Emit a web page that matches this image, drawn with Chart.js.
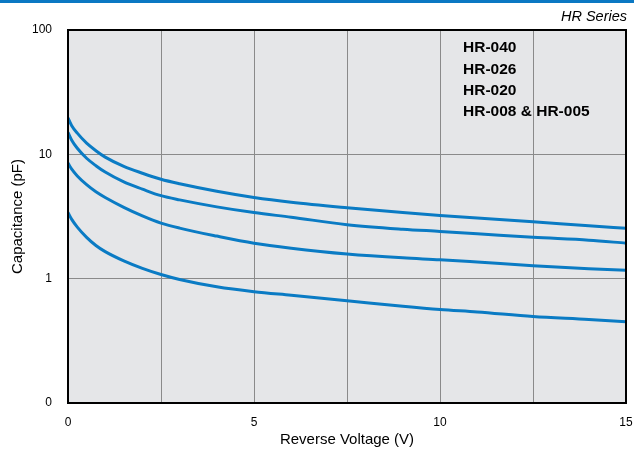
<!DOCTYPE html>
<html>
<head>
<meta charset="utf-8">
<script src="https://cdn.jsdelivr.net/npm/chart.js@4"></script>
<style>
  html, body { margin: 0; padding: 0; background: #fff; }
  #wrap { width: 634px; height: 454px; }
</style>
</head>
<body>
<div id="wrap"><canvas id="capChart" width="634" height="454"></canvas></div>
<script>
// values
var voltage = [0, 0.1, 0.25, 0.5, 0.75, 1, 1.5, 2, 2.5, 3, 4, 5, 6, 7.5, 9, 10, 11, 12.5, 14, 15];
var hr040 = [19.6, 17.0, 14.8, 12.3, 10.7, 9.5, 8.0, 7.05, 6.3, 5.8, 5.05, 4.5, 4.12, 3.72, 3.4, 3.22, 3.08, 2.87, 2.66, 2.54];
var hr026 = [15.0, 13.0, 11.2, 9.3, 8.1, 7.2, 6.0, 5.25, 4.65, 4.3, 3.78, 3.4, 3.12, 2.72, 2.5, 2.40, 2.3, 2.15, 2.04, 1.93];
var hr020 = [8.5, 7.6, 6.7, 5.7, 5.0, 4.5, 3.75, 3.2, 2.8, 2.55, 2.2, 1.93, 1.76, 1.58, 1.47, 1.42, 1.36, 1.27, 1.2, 1.17];
var hr008 = [3.4, 3.0, 2.6, 2.15, 1.85, 1.65, 1.39, 1.21, 1.08, 0.985, 0.86, 0.785, 0.735, 0.665, 0.6, 0.565, 0.54, 0.497, 0.47, 0.45];
var seriesNames = ['HR-040', 'HR-026', 'HR-020', 'HR-008 & HR-005'];
var xGridValues = [0, 2.5, 5, 7.5, 10, 12.5, 15];
var xTickLabels = ['0', '', '5', '', '10', '', '15'];
var yGridValues = [0.1, 1, 10, 100];
var yTickLabels = ['0', '1', '10', '100'];

var lineBlue = '#0a7bc4';
var font = "'Liberation Sans', Arial, Helvetica, sans-serif";

function toPoints(vals) {
    return voltage.map(function(v, i){ return {x: v, y: vals[i]}; });
}

var allSeries = [hr040, hr026, hr020, hr008];

// plot background, top band, frame and in-plot labels
var decor = {
    id: 'decor',
    beforeDraw: function(chart){
        var c = chart.ctx, a = chart.chartArea;
        c.save();
        c.fillStyle = '#ffffff';
        c.fillRect(0, 0, chart.width, chart.height);
        c.fillStyle = '#0b78c3';
        c.fillRect(0, 0, chart.width, 3);
        c.fillStyle = '#e5e6e8';
        c.fillRect(a.left, a.top, a.right - a.left, a.bottom - a.top);
        c.restore();
    },
    afterDatasetsDraw: function(chart){
        var c = chart.ctx, a = chart.chartArea;
        c.save();
        c.strokeStyle = '#000';
        c.lineWidth = 2;
        c.strokeRect(a.left, a.top, a.right - a.left, a.bottom - a.top);
        c.fillStyle = '#000';
        c.font = 'italic 14.5px ' + font;
        c.textAlign = 'right';
        c.textBaseline = 'middle';
        c.fillText('HR Series', 627, 17);
        c.font = 'bold 15.5px ' + font;
        c.textAlign = 'left';
        var ys = [48, 70, 91, 112];
        chart.data.datasets.forEach(function(ds, i){
            c.fillText(ds.label, 463, ys[i]);
        });
        c.restore();
    }
};

var ctx = document.getElementById('capChart').getContext('2d');
var capChart = new Chart(ctx, {
    type: 'line',
    data: {
        datasets: allSeries.map(function(s, i){
            return {
                label: seriesNames[i],
                data: toPoints(s),
                borderColor: lineBlue,
                borderWidth: 3,
                pointRadius: 0,
                fill: false,
                cubicInterpolationMode: 'monotone'
            };
        })
    },
    options: {
        responsive: false,
        animation: false,
        layout: { padding: { top: 30, right: 8, left: 0, bottom: 0 } },
        plugins: {
            legend: { display: false },
            tooltip: { enabled: false }
        },
        scales: {
            x: {
                type: 'linear',
                min: 0,
                max: 15,
                afterBuildTicks: function(scale){
                    scale.ticks = xGridValues.map(function(v){ return {value: v}; });
                },
                afterFit: function(scale){
                    scale.height = 51;
                    scale.paddingLeft = 0;
                    scale.paddingRight = 0;
                },
                ticks: {
                    autoSkip: false,
                    maxRotation: 0,
                    padding: 12,
                    color: '#000',
                    font: { family: font, size: 12 },
                    callback: function(v, i){ return xTickLabels[i]; }
                },
                grid: { color: '#8a8a8a', lineWidth: 1, drawTicks: false },
                border: { display: false },
                title: {
                    display: true,
                    text: 'Reverse Voltage (V)',
                    color: '#000',
                    font: { family: font, size: 15 },
                    padding: { top: 0, bottom: 5 }
                }
            },
            y: {
                type: 'logarithmic',
                min: 0.1,
                max: 100,
                afterBuildTicks: function(scale){
                    scale.ticks = yGridValues.map(function(v){ return {value: v}; });
                },
                afterFit: function(scale){
                    scale.width = 68;
                    scale.paddingTop = 0;
                    scale.paddingBottom = 0;
                },
                ticks: {
                    padding: 16,
                    color: '#000',
                    font: { family: font, size: 12 },
                    callback: function(v, i){ return yTickLabels[i]; }
                },
                grid: { color: '#8a8a8a', lineWidth: 1, drawTicks: false },
                border: { display: false },
                title: {
                    display: true,
                    text: 'Capacitance (pF)',
                    color: '#000',
                    font: { family: font, size: 15 },
                    padding: { top: 9, bottom: 0 }
                }
            }
        }
    },
    plugins: [decor]
});
</script>
</body>
</html>
